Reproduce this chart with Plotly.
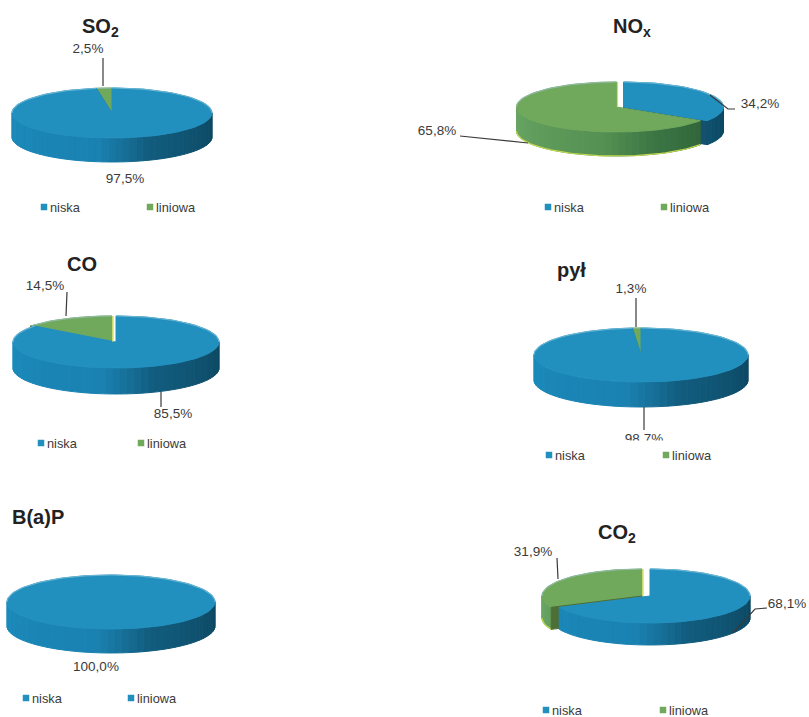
import math
import plotly.graph_objects as go

# ---------- data ----------
pollutants = ["SO<sub>2</sub>", "NO<sub>x</sub>", "CO", "pył", "B(a)P", "CO<sub>2</sub>"]
niska = [97.5, 34.2, 85.5, 98.7, 100.0, 68.1]
liniowa = [2.5, 65.8, 14.5, 1.3, 0.0, 31.9]
legend_labels = ["niska", "liniowa"]

# ---------- layout of each panel (pixels) ----------
#        cx   cy  rx   ry depth explode
geom = [(112, 113, 100, 25, 24, 0),
        (620, 107, 100, 25, 24, 3.5),
        (114, 342, 103, 26, 26, 2),
        (641, 355, 107, 27, 25, 0),
        (111, 602, 104, 27, 24, 0),
        (646, 596, 100, 27, 22, 4)]
title_pos = [(100, 27), (632, 27), (82, 264), (571, 270), (38, 517), (617, 533)]
# positions of the labels: liniowa, niska
pct_pos = [((88, 50), (125, 180)),
           ((437, 132), (760, 105)),
           ((45, 287), (173, 415)),
           ((631, 290), (644, 440)),
           (None, (96, 668)),
           ((533, 553), (787, 605))]
leaders = [([(103, 58), (103, 86)], None),
           ([(710, 95), (728, 109), (735, 109)], [(460, 136), (528, 143)]),
           ([(67, 292), (66, 316)], [(161, 392), (161, 407)]),
           ([(636, 298), (636, 327)], [(644, 407), (644, 430)]),
           (None, None),
           ([(557, 558), (558, 579)], [(767, 608), (755, 609), (733, 633)])]
legend_y = [207, 207, 443, 455, 698, 710]
legend_x = [(41, 147), (545, 661), (38, 138), (546, 663), (23, 128), (543, 660)]

BLUE_TOP, GREEN_TOP = "#2290bf", "#71a95c"
BLUE_RIM, GREEN_RIM = "#66b3d2", "#8fb9a0"
TEXT = "#3a3a3a"


def lerp(a, b, t):
    return tuple(round(a[i] + (b[i] - a[i]) * t) for i in range(3))


def side_col(deg, base):
    # deg clockwise from 12 o'clock; 270 = far left, 90 = far right
    t = (270 - deg) / 180
    if base == "blue":
        stops = [(27, 138, 186), (26, 130, 178), (18, 92, 126), (12, 70, 95)]
    else:
        stops = [(105, 165, 100), (85, 145, 82), (60, 118, 68), (38, 88, 50)]
    if t < .45:
        c = lerp(stops[0], stops[1], t / .45)
    elif t < .62:
        c = lerp(stops[1], stops[2], (t - .45) / .17)
    else:
        c = lerp(stops[2], stops[3], (t - .62) / .38)
    return "rgb(%d,%d,%d)" % c


def pt(cx, cy, rx, ry, deg):
    r = math.radians(deg)
    return cx + rx * math.sin(r), cy - ry * math.cos(r)


fig = go.Figure()


def poly(pts, fill, line=None, w=0):
    xs = [p[0] for p in pts] + [pts[0][0]]
    ys = [p[1] for p in pts] + [pts[0][1]]
    fig.add_trace(go.Scatter(x=xs, y=ys, mode="lines", fill="toself", fillcolor=fill,
                             line=dict(color=line or fill, width=w or 1),
                             hoverinfo="skip", showlegend=False))


def path(pts, color, w=1.2):
    fig.add_trace(go.Scatter(x=[p[0] for p in pts], y=[p[1] for p in pts], mode="lines",
                             line=dict(color=color, width=w), hoverinfo="skip", showlegend=False))


def arc(cx, cy, rx, ry, a, b, n=None):
    n = n or max(2, int(abs(b - a) / 3) + 1)
    return [pt(cx, cy, rx, ry, a + (b - a) * i / (n - 1)) for i in range(n)]


def slice3d(cx, cy, rx, ry, d, a, b, kind):
    """Slice from angle a to b (clockwise from 12 o'clock)."""
    top, rim = (BLUE_TOP, BLUE_RIM) if kind == "blue" else (GREEN_TOP, GREEN_RIM)
    # outer wall on the front half, painted right to left
    lo, hi = max(a, 90), min(b, 270)
    if hi > lo:
        step = 4
        x = lo
        while x < hi:
            y = min(x + step, hi)
            up = arc(cx, cy, rx, ry, x, y, 3)
            dn = [(p[0], p[1] + d) for p in up][::-1]
            poly(up + dn, side_col((x + y) / 2, kind))
            x = y
        if kind == "green":
            path([(p[0], p[1] + d) for p in arc(cx, cy, rx, ry, lo, hi)], "#c3d84e", 1.2)
    # top face
    poly([(cx, cy)] + arc(cx, cy, rx, ry, a, b), top)
    # pale rim on the back edge
    lo, hi = max(a, 270), min(b, 360)
    if hi > lo:
        path(arc(cx, cy, rx, ry, lo, hi), rim, 1.2)
    lo, hi = max(a, 0), min(b, 90)
    if hi > lo:
        path(arc(cx, cy, rx, ry, lo, hi), rim, 1.2)


def wall_cut(cx, cy, rx, ry, d, deg, color):
    p = pt(cx, cy, rx, ry, deg)
    poly([(cx, cy), p, (p[0], p[1] + d), (cx, cy + d)], color)


def pct_text(pos, val):
    fig.add_trace(go.Scatter(x=[pos[0]], y=[pos[1]], mode="text",
                             text=[f"{val:.1f}%".replace(".", ",")],
                             textfont=dict(family="Liberation Sans", size=13.5, color=TEXT),
                             hoverinfo="skip", showlegend=False))


for i, (n_val, l_val) in enumerate(zip(niska, liniowa)):
    cx, cy, rx, ry, d, ex = geom[i]
    split = n_val / 100 * 360
    if l_val == 0:
        slice3d(cx, cy, rx, ry, d, 0, 360, "blue")
    else:
        bx, gx = cx + ex, cx - ex
        # far-away pieces first so that nearer walls overlap them
        if n_val < 50:
            wall_cut(bx, cy, rx, ry, d, split, "#15506e")
            slice3d(bx, cy, rx, ry, d, 0, split, "blue")
            slice3d(gx, cy, rx, ry, d, split, 360, "green")
        else:
            slice3d(gx, cy, rx, ry, d, split, 360, "green")
            wall_cut(gx, cy, rx, ry, d, split, "#4d6f35")
            slice3d(bx, cy, rx, ry, d, 0, split, "blue")
        if ex:
            path([(gx + 1, cy), pt(gx + 1, cy, 0, ry, 0)], "#d6de4a", 1.2)

    # leader lines
    for seg in leaders[i] or ():
        if seg:
            path(seg, "#3a3a3a", 1.2)

    # percentage labels
    lab_l, lab_n = pct_pos[i]
    if lab_l:
        pct_text(lab_l, l_val)
    pct_text(lab_n, n_val)

# the scan cuts off the lower part of the "pył" label
poly([(590, 441), (700, 441), (700, 449), (590, 449)], "#ffffff")

annotations = []
for i, name in enumerate(pollutants):
    annotations.append(dict(x=title_pos[i][0], y=title_pos[i][1], text=f"<b>{name}</b>", showarrow=False,
                            font=dict(family="Liberation Sans", size=20, color="#222222"),
                            xref="x", yref="y"))
    lx = legend_x[i]
    for j, lab in enumerate(legend_labels):
        col = BLUE_TOP
        if j == 1 and liniowa[i] > 0:
            col = GREEN_TOP
        fig.add_trace(go.Scatter(x=[lx[j] + 3], y=[legend_y[i]], mode="markers",
                                 marker=dict(symbol="square", size=6.5, color=col),
                                 hoverinfo="skip", showlegend=False))
        annotations.append(dict(x=lx[j] + 9, y=legend_y[i], text=lab, xanchor="left", showarrow=False,
                                xshift=-2,
                                font=dict(family="Liberation Sans", size=12.8, color=TEXT),
                                xref="x", yref="y"))

fig.update_layout(width=809, height=717, margin=dict(l=0, r=0, t=0, b=0),
                  paper_bgcolor="#ffffff", plot_bgcolor="#ffffff", showlegend=False,
                  xaxis=dict(range=[0, 809], visible=False, fixedrange=True),
                  yaxis=dict(range=[717, 0], visible=False, fixedrange=True),
                  annotations=annotations)
fig.write_html("out.html", config=dict(displayModeBar=False),
               post_script="document.body.style.margin='0';document.documentElement.style.overflow='hidden';")
